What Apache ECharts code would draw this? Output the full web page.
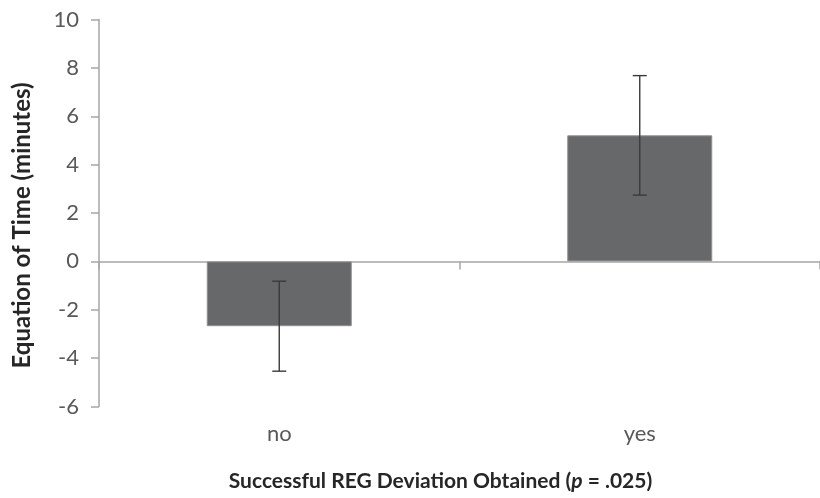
<!DOCTYPE html>
<html>
<head>
<meta charset="utf-8">
<script src="https://cdn.jsdelivr.net/npm/echarts@6/dist/echarts.min.js"></script>
<style>
  html, body { margin: 0; padding: 0; background: #ffffff; }
  #chart { width: 820px; height: 498px; }
</style>
</head>
<body>
<div id="chart"></div>
<script>
// Group labels and measured means (minutes) with their error half-widths
const categories = ['no', 'yes'];
const meanValues = [-2.68, 5.21];
const errorValues = [1.86, 2.47];
const yTicks = { min: -6, max: 10, interval: 2 };

const FONT = 'Lato, "Open Sans", sans-serif';

const chart = echarts.init(document.getElementById('chart'), null, { renderer: 'canvas' });

const errorData = categories.map((c, i) => [i, meanValues[i] - errorValues[i], meanValues[i] + errorValues[i]]);

const option = {
  animation: false,
  backgroundColor: '#ffffff',
  grid: { left: 99, top: 19.5, bottom: 91.5, width: 726, containLabel: false },
  xAxis: [
    {
      // category labels along the bottom
      type: 'category',
      data: categories,
      position: 'bottom',
      axisLine: { show: false, onZero: false },
      axisTick: { show: false },
      axisLabel: { margin: 16, color: '#595959', fontSize: 22, fontFamily: FONT }
    },
    {
      // baseline through zero with boundary ticks
      type: 'category',
      data: categories,
      position: 'bottom',
      axisLine: { show: true, onZero: true, lineStyle: { color: '#a6a6a6', width: 1.5 } },
      axisTick: { show: true, length: 8, lineStyle: { color: '#a6a6a6', width: 1.5 } },
      axisLabel: { show: false }
    }
  ],
  yAxis: {
    type: 'value',
    min: yTicks.min,
    max: yTicks.max,
    interval: yTicks.interval,
    splitLine: { show: false },
    axisLine: { show: true, onZero: false, lineStyle: { color: '#a6a6a6', width: 1.5 } },
    axisTick: { show: true, length: 8, lineStyle: { color: '#a6a6a6', width: 1.5 } },
    axisLabel: { margin: 20, color: '#595959', fontSize: 22, fontFamily: FONT }
  },
  graphic: [
    {
      type: 'text',
      x: 22.5, y: 225.5,
      rotation: Math.PI / 2,
      style: {
        text: 'Equation of Time (minutes)',
        fill: '#262626',
        font: 'bold 24px ' + FONT,
        align: 'center',
        verticalAlign: 'middle'
      }
    },
    {
      type: 'text',
      x: 440.5, y: 481,
      style: {
        text: '{b|Successful REG Deviation Obtained (}{i|p}{b| = .025)}',
        align: 'center',
        verticalAlign: 'middle',
        rich: {
          b: { fill: '#262626', fontWeight: 'bold', fontSize: 21, fontFamily: FONT },
          i: { fill: '#262626', fontWeight: 'bold', fontStyle: 'italic', fontSize: 21, fontFamily: FONT }
        }
      }
    }
  ],
  series: [
    {
      type: 'bar',
      xAxisIndex: 0,
      data: meanValues,
      barWidth: 145,
      itemStyle: { color: '#67686a', borderColor: '#8e8f91', borderWidth: 1 },
      z: 2
    },
    {
      type: 'custom',
      xAxisIndex: 0,
      data: errorData,
      z: 3,
      renderItem: function (params, api) {
        const x = api.coord([api.value(0), 0])[0];
        const lo = api.coord([api.value(0), api.value(1)])[1];
        const hi = api.coord([api.value(0), api.value(2)])[1];
        const cap = 7;
        const style = { stroke: '#3a3a3a', lineWidth: 1.4, fill: null };
        return {
          type: 'group',
          children: [
            { type: 'line', shape: { x1: x, y1: lo, x2: x, y2: hi }, style },
            { type: 'line', shape: { x1: x - cap, y1: hi, x2: x + cap, y2: hi }, style },
            { type: 'line', shape: { x1: x - cap, y1: lo, x2: x + cap, y2: lo }, style }
          ]
        };
      }
    }
  ]
};

chart.setOption(option);
</script>
</body>
</html>
